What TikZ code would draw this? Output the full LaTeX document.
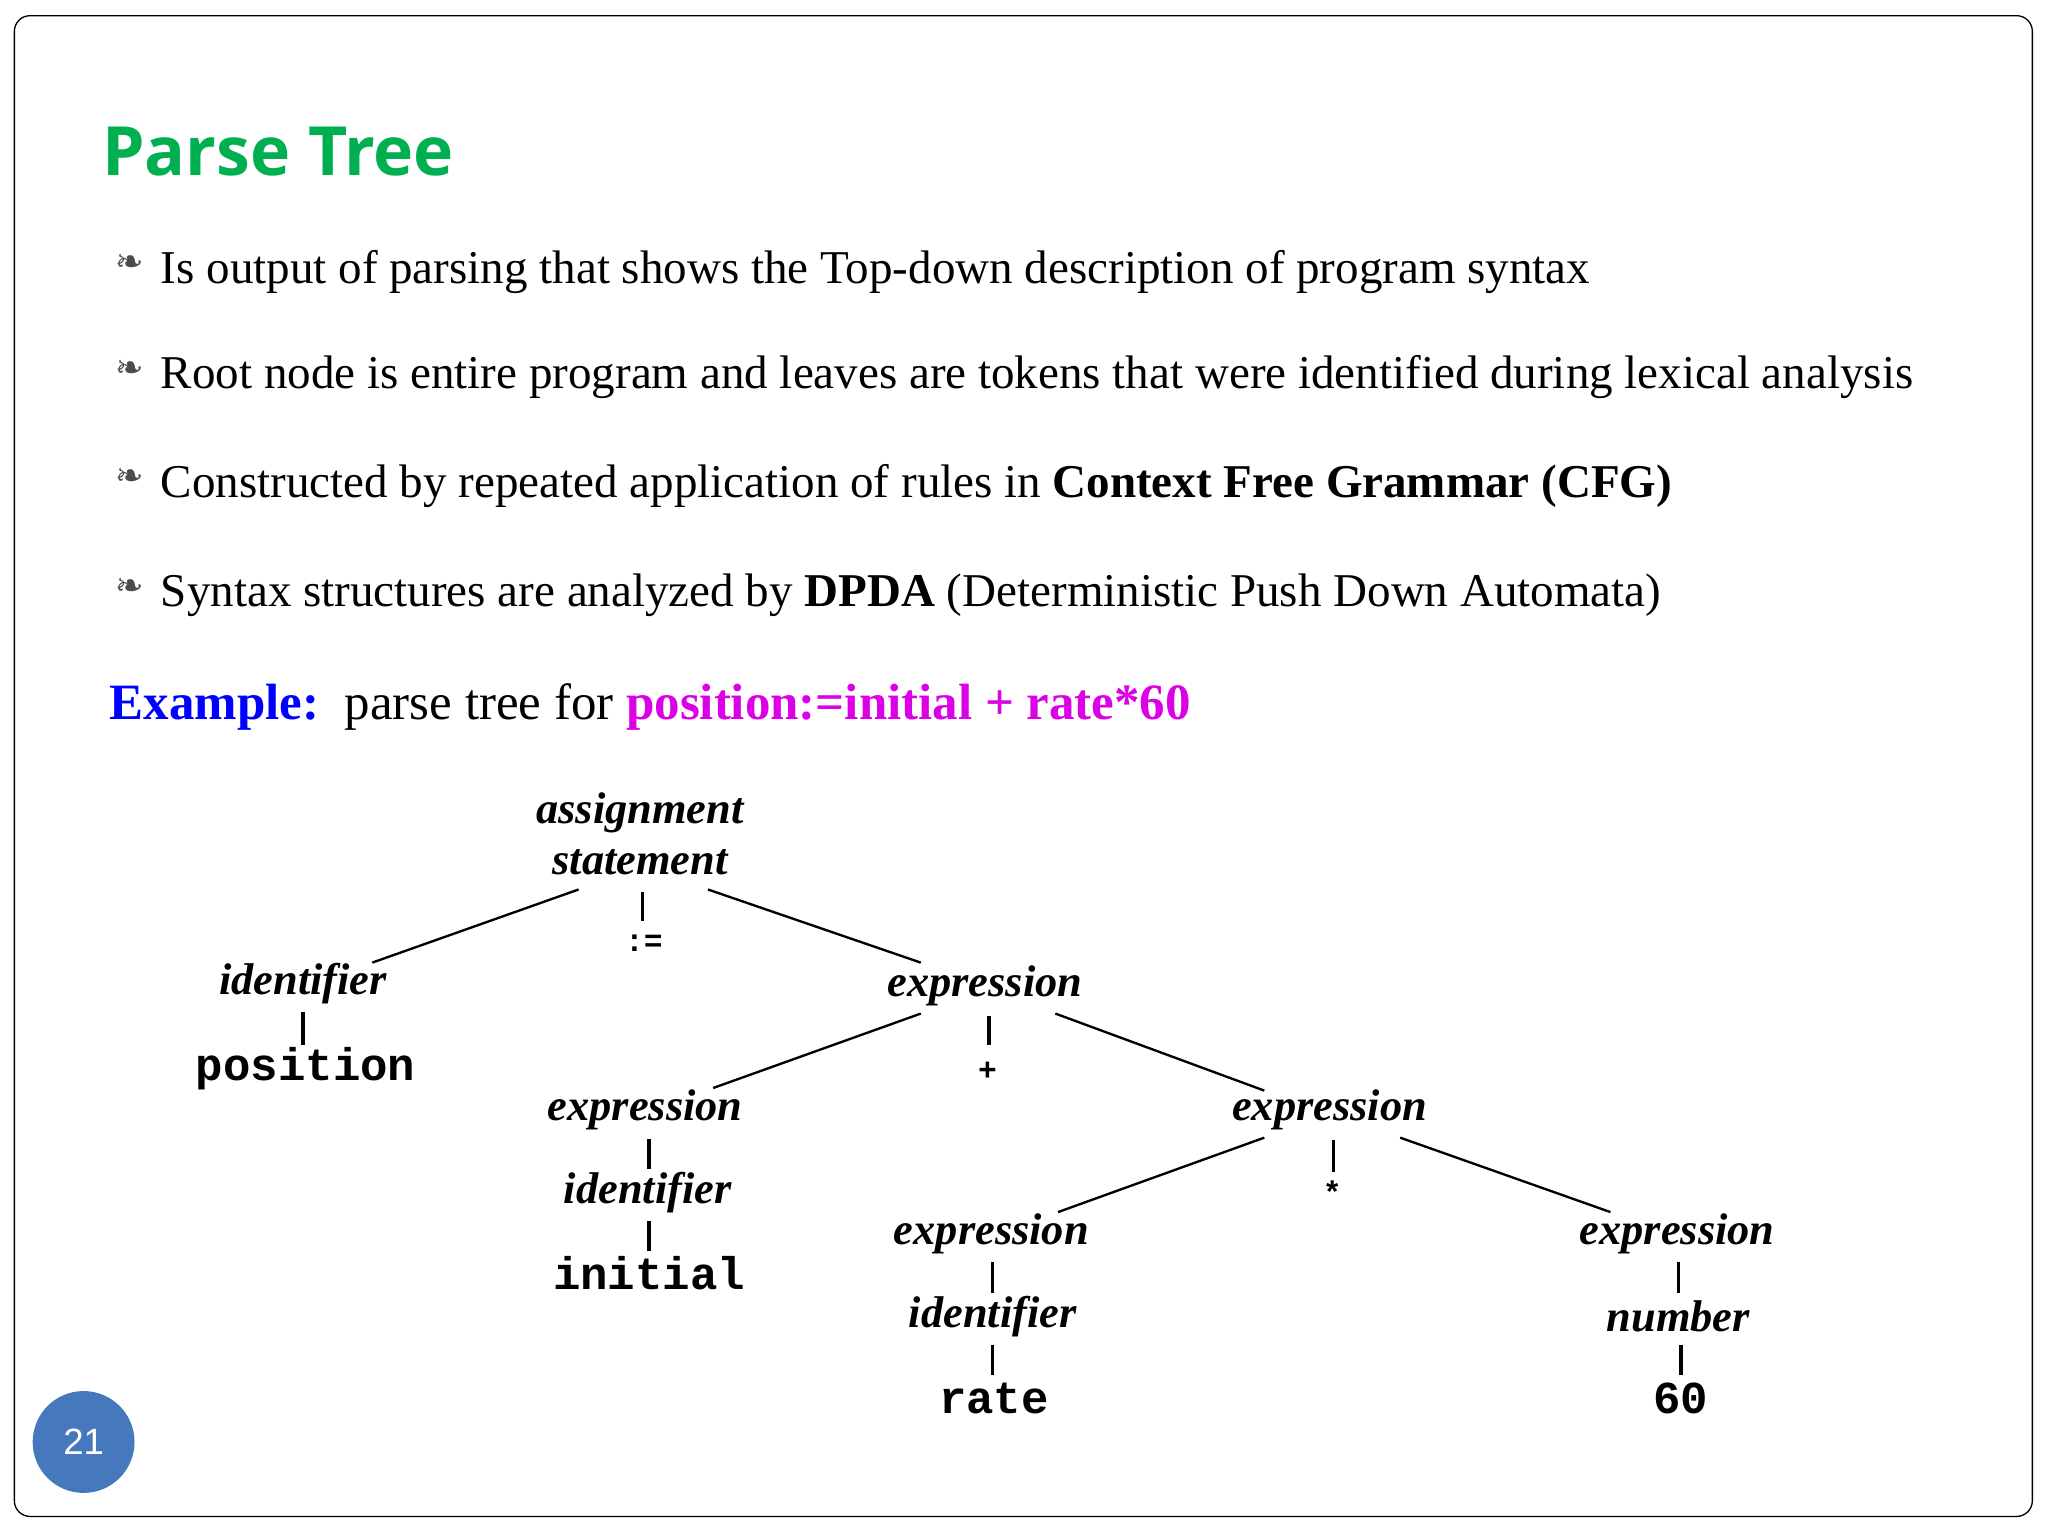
\documentclass[tikz,border=0pt]{standalone}
\usepackage{fontspec}
\usetikzlibrary{calc}
\setmainfont{Liberation Serif}
\newfontfamily\titlefont{Open Sans}
\newfontfamily\symfont{DejaVu Sans}
\newfontfamily\monof{Liberation Mono}
\newfontfamily\pnfont{Liberation Sans}
\begin{document}
\begin{tikzpicture}[x=1pt,y=-1pt,
  bul/.style={anchor=west,font=\fontsize{36}{40}\selectfont,inner sep=0},
  nt/.style={font=\fontsize{34}{36}\selectfont\bfseries\itshape,inner sep=2pt},
  lf/.style={font=\fontsize{35}{36}\selectfont\monof\bfseries,inner sep=2pt},
  op/.style={font=\fontsize{24}{26}\selectfont\monof\bfseries,inner sep=2pt},
  edge/.style={line width=1.8pt}]
\useasboundingbox (0,0) rectangle (1568,1176);
\draw[line width=1pt,rounded corners=12] (11,12) rectangle (1556,1161);
\node[anchor=west,inner sep=0,text={rgb,255:red,0;green,176;blue,80},font=\fontsize{52}{56}\selectfont\titlefont\bfseries] (title) at (78,116) {Parse Tree};
\foreach \y/\n in {208/b1,289/b2,372/b3,456/b4}{\node[font=\fontsize{26}{26}\selectfont\symfont,text=black!70] (\n s) at (99,\y-6) {❧};}
\node[bul] (b1) at (123,208) {Is output of parsing that shows the Top-down description of program syntax};
\node[bul] (b2) at (123,289) {Root node is entire program and leaves are tokens that were identified during lexical analysis};
\node[bul] (b3) at (123,372) {Constructed by repeated application of rules in \textbf{Context Free Grammar (CFG)}};
\node[bul] (b4) at (123,456) {Syntax structures are analyzed by \textbf{DPDA} (Deterministic Push Down Automata)};
\node[bul,font=\fontsize{39}{42}\selectfont] (ex) at (84,541) {\textcolor{blue}{\textbf{Example:}}\enspace parse tree for \textcolor[RGB]{220,0,230}{\textbf{position:=initial + rate*60}}};
% tree
\node[nt] (a1) at (490,622) {assignment};
\node[nt] (a2) at (490,660) {statement};
\node[op] (asg) at (493,722) {:=};
\node[nt] (id1) at (232,753) {identifier};
\node[lf] (pos) at (234,818) {position};
\node[nt] (e1) at (754,755) {expression};
\node[op] (plus) at (756,820) {+};
\node[nt] (e2) at (494,850) {expression};
\node[nt] (id2) at (496,913) {identifier};
\node[lf] (ini) at (497,975) {initial};
\node[nt] (e3) at (1018,850) {expression};
\node[op] (star) at (1020,913) {*};
\node[nt] (e4) at (759,945) {expression};
\node[nt] (id3) at (760,1008) {identifier};
\node[lf] (rate) at (761,1071) {rate};
\node[nt] (e5) at (1284,945) {expression};
\node[nt] (num) at (1285,1008) {number};
\node[lf] (sixty) at (1287,1071) {60};
\foreach \a/\ax/\ay/\b/\bx/\by in {
 a2/-47/21/id1/53/-16, a2/52/21/e1/-49/-18,
 e1/-49/21/e2/52/-17, e1/54/21/e3/-50/-15,
 e3/-50/21/e4/51/-17, e3/54/21/e5/-51/-17}
 {\draw[edge] ($(\a)+(\ax,\ay)$) -- ($(\b)+(\bx,\by)$);}
\foreach \a/\ax/\ay/\b/\bx/\by in {
 a2/2/23/asg/-1/-17, id1/0/22/pos/-2/-18, e1/3/23/plus/1/-20, e2/3/22/id2/1/-18,
 id2/1/22/ini/0/-17, e3/3/23/star/1/-16,
 e4/1/21/id3/0/-18, id3/0/22/rate/-1/-18, e5/1/21/num/0/-18, num/2/22/sixty/0/-18}
 {\draw[edge,line width=2.8pt] ($(\a)+(\ax,\ay)$) -- ($(\b)+(\bx,\by)$);}
\node[circle,fill={rgb,255:red,70;green,120;blue,190},minimum size=78pt,text=white,font=\fontsize{28}{30}\selectfont\pnfont] (pg) at (64,1104) {21};
\end{tikzpicture}
\end{document}
